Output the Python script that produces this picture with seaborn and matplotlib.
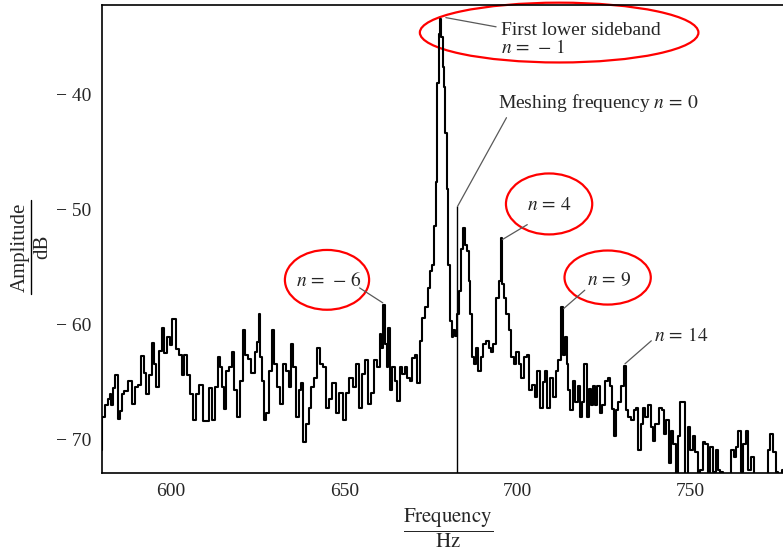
import matplotlib
matplotlib.use('Agg')
import matplotlib.pyplot as plt
from matplotlib.patches import Ellipse
from matplotlib.lines import Line2D
import seaborn as sns

sns.set_theme(style="white")
plt.rcParams['font.family'] = ['Liberation Serif', 'DejaVu Serif']
plt.rcParams['mathtext.fontset'] = 'stix'

# spectrum (Hz, dB)
freq_hz = [
    579.5, 580.5, 581.5, 582.0, 582.5, 583.0, 583.5, 584.2, 585.0, 585.5,
    586.0, 587.0, 588.2, 589.1, 590.0, 591.0, 591.6, 592.5, 593.0, 594.0,
    594.8, 595.5, 596.0, 597.0, 597.7, 598.4, 599.4, 600.0, 600.8, 601.8,
    602.8, 603.3, 604.2, 605.0, 605.7, 606.7, 607.7, 608.6, 609.6, 610.6,
    611.5, 612.2, 613.0, 613.8, 614.4, 615.0, 615.4, 616.2, 617.4, 618.0,
    618.6, 619.3, 620.3, 621.0, 621.8, 622.7, 623.7, 624.5, 625.0, 625.5,
    626.1, 626.6, 627.1, 627.8, 628.6, 629.4, 630.0, 631.0, 632.0, 632.7,
    633.6, 634.2, 635.0, 635.6, 636.4, 637.2, 637.8, 638.5, 639.3, 640.1,
    640.8, 641.7, 642.7, 643.4, 644.2, 645.0, 646.0, 647.0, 648.0, 649.0,
    650.0, 651.0, 651.9, 652.9, 653.9, 654.6, 655.4, 656.3, 657.3, 658.3,
    659.1, 660.0, 660.4, 661.0, 661.5, 662.0, 662.4, 663.0, 663.4, 664.1,
    664.9, 665.6, 666.3, 667.0, 667.8, 668.5, 669.2, 670.0, 670.8, 671.4,
    672.1, 672.9, 673.7, 674.4, 675.1, 675.7, 676.1, 676.6, 677.0, 677.4,
    677.7, 678.2, 678.6, 679.0, 679.4, 679.8, 680.2, 680.7, 681.2, 681.7,
    682.2, 682.7, 683.5, 684.1, 684.6, 685.1, 685.6, 686.1, 686.6, 687.1,
    687.7, 688.3, 689.0, 689.7, 690.5, 691.3, 692.0, 692.6, 693.4, 694.2,
    694.9, 695.4, 695.7, 696.3, 697.1, 697.8, 698.5, 699.3, 700.0, 700.7,
    701.4, 702.2, 703.0, 703.7, 704.6, 705.4, 706.1, 706.9, 707.5, 708.2,
    709.0, 709.8, 710.5, 711.4, 712.1, 712.8, 713.4, 713.9, 714.4, 714.9,
    715.6, 716.3, 717.0, 717.6, 718.3, 718.9, 719.7, 720.2, 720.9, 721.5,
    722.2, 722.7, 723.4, 724.1, 724.8, 725.6, 726.4, 727.0, 727.5, 728.0,
    728.7, 729.5, 730.3, 730.9, 731.6, 732.4, 733.2, 733.9, 734.5, 735.3,
    736.1, 736.5, 737.3, 738.1, 738.7, 739.4, 740.2, 741.2, 742.0, 742.6,
    743.3, 743.9, 744.6, 745.3, 745.9, 746.5, 747.2, 748.0, 748.8, 749.5,
    750.1, 750.9, 751.7, 752.4, 753.1, 753.8, 754.6, 755.3, 756.0, 756.8,
    757.6, 758.2, 758.9, 759.7, 760.5, 761.3, 762.1, 762.8, 763.4, 764.1,
    764.8, 765.5, 766.3, 767.0, 767.7, 768.5, 769.5, 770.9, 771.9, 772.6,
    773.4, 774.1, 774.8, 775.8, 776.8, 777.4, 778.0,
]
amp_db = [
    -70.9, -68.0, -67.0, -66.5, -66.0, -67.0, -65.5, -64.4, -68.2, -67.5,
    -66.0, -65.8, -64.9, -66.9, -65.4, -65.2, -62.7, -64.2, -66.0, -64.4,
    -61.6, -63.4, -65.4, -62.3, -60.3, -62.5, -61.1, -61.8, -59.5, -62.1,
    -62.6, -64.4, -62.6, -64.4, -66.0, -68.3, -66.0, -65.2, -68.4, -68.4,
    -65.5, -68.3, -65.4, -62.8, -63.7, -65.4, -67.3, -64.0, -63.7, -62.4,
    -65.7, -68.0, -64.9, -60.5, -62.6, -63.0, -64.2, -62.4, -61.5, -59.1,
    -62.8, -64.9, -68.3, -67.7, -64.0, -60.5, -63.4, -65.4, -66.9, -63.4,
    -64.0, -65.4, -61.7, -63.7, -68.0, -65.7, -65.1, -70.2, -68.6, -67.2,
    -65.4, -64.6, -62.0, -63.4, -63.7, -67.2, -66.5, -65.1, -67.7, -65.9,
    -68.3, -65.9, -64.6, -65.4, -63.4, -67.2, -64.3, -63.1, -66.9, -65.9,
    -63.1, -63.7, -60.8, -62.0, -58.3, -61.7, -63.7, -60.3, -65.7, -63.7,
    -64.9, -66.6, -63.7, -64.3, -63.7, -64.6, -64.9, -62.9, -62.6, -65.1,
    -61.4, -59.4, -58.5, -56.8, -55.3, -54.8, -51.4, -47.6, -39.0, -34.7,
    -33.4, -35.0, -37.6, -39.3, -43.3, -48.2, -54.8, -59.7, -61.1, -60.5,
    -61.0, -59.1, -57.1, -53.4, -51.6, -53.1, -53.6, -56.2, -59.1, -62.8,
    -63.4, -62.0, -64.0, -62.8, -61.7, -61.4, -62.0, -62.4, -61.7, -57.7,
    -56.2, -52.5, -56.5, -57.7, -59.1, -60.5, -62.8, -63.4, -62.4, -63.4,
    -64.6, -62.8, -62.6, -65.7, -65.2, -66.3, -64.0, -67.2, -65.0, -64.0,
    -67.2, -64.6, -66.3, -64.0, -63.1, -58.5, -62.6, -61.1, -63.4, -65.7,
    -67.4, -64.9, -66.7, -65.3, -68.0, -66.7, -63.4, -68.0, -65.6, -67.0,
    -65.3, -67.0, -65.3, -67.7, -67.0, -64.9, -64.6, -65.3, -67.3, -69.7,
    -67.4, -66.7, -65.3, -63.6, -67.4, -68.0, -68.3, -67.4, -67.2, -70.9,
    -68.6, -67.2, -68.0, -67.0, -68.9, -70.1, -68.6, -67.2, -67.4, -69.5,
    -68.3, -72.0, -69.2, -70.4, -73.5, -69.7, -66.7, -66.7, -73.5, -68.9,
    -70.9, -69.7, -71.1, -73.5, -72.6, -70.2, -70.4, -73.5, -70.6, -72.8,
    -70.9, -72.6, -72.8, -73.5, -73.5, -73.5, -70.9, -71.5, -70.6, -69.2,
    -72.8, -70.4, -69.2, -72.6, -71.5, -73.5, -73.5, -73.5, -73.5, -70.9,
    -69.5, -71.1, -72.8, -73.5, -72.6, -71.5, -73.5,
]

mesh_freq = 682.4
mesh_level = -49.7

x_ticks = [600, 650, 700, 750]
y_ticks = [-40, -50, -60, -70]
y_tick_labels = ['\u2212 40', '\u2212 50', '\u2212 60', '\u2212 70']

W, H = 783, 552
fig = plt.figure(figsize=(W / 100, H / 100), dpi=100)
ax = fig.add_axes([0.130, 0.143, 0.885, 0.848])

sns.lineplot(x=freq_hz, y=amp_db, drawstyle='steps-mid', color='black',
             linewidth=1.5, ax=ax)
ax.vlines(mesh_freq, -73.5, mesh_level, color='black', linewidth=1.0)

ax.set_xlim(580, 780)
ax.set_ylim(-72.9, -32.2)
ax.set_xticks(x_ticks)
ax.set_yticks(y_ticks)
ax.set_yticklabels(y_tick_labels)
ax.tick_params(labelsize=14, direction='out', length=4, width=1, color='black')
ax.spines['right'].set_visible(False)
for s in ['left', 'top', 'bottom']:
    ax.spines[s].set_color('black')
    ax.spines[s].set_linewidth(1.2)

ax.set_xlabel(r'$\dfrac{\mathrm{Frequency}}{\mathrm{Hz}}$', fontsize=15, labelpad=4)

# y label drawn as a stacked fraction: Amplitude over dB
fig.text(20 / W, 1 - 247 / H, 'Amplitude', rotation=90, ha='center', va='center', fontsize=15)
fig.text(43 / W, 1 - 247 / H, 'dB', rotation=90, ha='center', va='center', fontsize=15)
fig.add_artist(Line2D([31 / W, 31 / W], [1 - 200 / H, 1 - 294 / H],
                      transform=fig.transFigure, color='black', linewidth=1.0))

# annotations
lead = dict(color='0.35', linewidth=0.9)
ax.plot([679.3, 693.8], [-33.3, -34.1], **lead)
ax.text(695.3, -34.4, 'First lower sideband', fontsize=14, va='center')
ax.text(695.3, -35.9, r'$n\,=\,-\,1$', fontsize=14, va='center')

ax.plot([682.7, 696.8], [-49.7, -42.0], **lead)
ax.text(694.4, -40.7, r'Meshing frequency $n\,=\,0$', fontsize=14, va='center')

ax.plot([695.6, 702.8], [-52.6, -51.3], **lead)
ax.text(709.1, -49.6, r'$n\,=\,4$', fontsize=14, ha='center', va='center')

ax.plot([713.3, 719.4], [-58.6, -57.0], **lead)
ax.text(726.4, -56.1, r'$n\,=\,9$', fontsize=14, ha='center', va='center')

ax.plot([654.4, 661.1], [-56.8, -58.1], **lead)
ax.text(645.6, -56.2, r'$n\,=\,-\,6$', fontsize=14, ha='center', va='center')

ax.plot([731.0, 738.6], [-63.4, -61.4], **lead)
ax.text(747.1, -61.0, r'$n\,=\,14$', fontsize=14, ha='center', va='center')

# red highlight ellipses
ellipses = [((712.0, -34.6), 80.4, 5.2), ((709.1, -49.5), 24.9, 5.3),
            ((726.0, -55.9), 24.9, 4.7), ((645.0, -56.1), 24.3, 5.2)]
for (cx, cy), w, h in ellipses:
    ax.add_patch(Ellipse((cx, cy), w, h, fill=False, edgecolor='red',
                         linewidth=1.6, clip_on=False))

fig.savefig('out.png', dpi=100)
